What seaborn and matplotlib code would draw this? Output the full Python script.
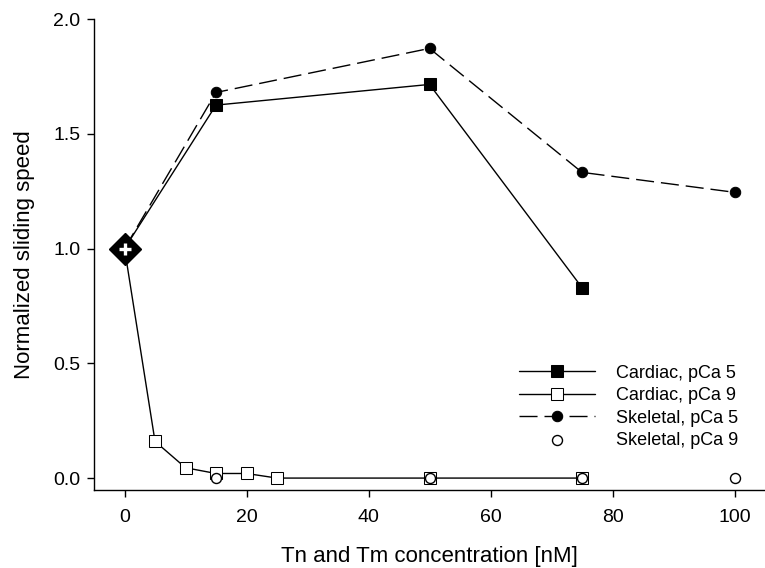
import numpy as np
import pandas as pd
import seaborn as sns
import matplotlib.pyplot as plt
from matplotlib.ticker import FormatStrFormatter

# dados
cardiac_pca5_x = [0, 15, 50, 75]
cardiac_pca5_y = [1.0, 1.625, 1.715, 0.83]

cardiac_pca9_x = [0, 5, 10, 15, 20, 25, 50, 75]
cardiac_pca9_y = [1.0, 0.16, 0.045, 0.02, 0.02, 0.0, 0.0, 0.0]

skeletal_pca5_x = [0, 15, 50, 75, 100]
skeletal_pca5_y = [1.0, 1.68, 1.872, 1.332, 1.245]

skeletal_pca9_x = [15, 50, 75, 100]
skeletal_pca9_y = [0.0, 0.0, 0.0, 0.0]

ref_x = [0]
ref_y = [1.0]

sns.set_style('ticks')
plt.rcParams['font.family'] = ['Liberation Sans', 'DejaVu Sans']
plt.rcParams['text.color'] = 'black'
plt.rcParams['axes.labelcolor'] = 'black'

fig = plt.figure(figsize=(7.65, 5.68), dpi=100)
ax = fig.add_axes([0.1229, 0.1373, 0.8771, 0.8292])

sns.lineplot(x=cardiac_pca5_x, y=cardiac_pca5_y, ax=ax, color='black', lw=1,
             marker='s', markersize=8, markerfacecolor='black', markeredgecolor='black',
             label='Cardiac, pCa 5', zorder=3)
sns.lineplot(x=cardiac_pca9_x, y=cardiac_pca9_y, ax=ax, color='black', lw=1,
             marker='s', markersize=8, markerfacecolor='white', markeredgecolor='black',
             label='Cardiac, pCa 9', zorder=3)
sns.lineplot(x=skeletal_pca5_x, y=skeletal_pca5_y, ax=ax, color='black', lw=1,
             marker='o', markersize=7.5, markerfacecolor='black', markeredgecolor='black',
             dashes=(13, 5), label='Skeletal, pCa 5', zorder=3)
sns.scatterplot(x=skeletal_pca9_x, y=skeletal_pca9_y, ax=ax, marker='o', s=52,
                facecolor='white', edgecolor='black', linewidth=1,
                label='Skeletal, pCa 9', zorder=4)

# ponto de referência (diamante com cruz branca)
ax.plot(ref_x, ref_y, marker='D', markersize=16, color='black', zorder=5, ls='none')
ax.plot(ref_x, ref_y, marker='+', markersize=9, markeredgewidth=2.4, color='white', zorder=6, ls='none')

ax.set_xlim(-5, 105)
ax.set_ylim(-0.052, 2.0)
ax.set_xticks([0, 20, 40, 60, 80, 100])
ax.set_yticks([0.0, 0.5, 1.0, 1.5, 2.0])
ax.yaxis.set_major_formatter(FormatStrFormatter('%.1f'))
ax.tick_params(direction='out', length=5, width=1, colors='black', labelsize=14)
ax.tick_params(axis='x', pad=9)
ax.tick_params(axis='y', pad=5)
for s in ['top', 'right']:
    ax.spines[s].set_visible(False)
for s in ['left', 'bottom']:
    ax.spines[s].set_linewidth(1)
    ax.spines[s].set_color('black')

ax.set_xlabel('Tn and Tm concentration [nM]', fontsize=16, labelpad=14)
ax.set_ylabel('Normalized sliding speed', fontsize=16, labelpad=13)

leg = ax.legend(loc='lower right', bbox_to_anchor=(0.96, 0.087), frameon=False,
                fontsize=13, handlelength=4.2, handletextpad=1.15, labelspacing=0.3,
                borderpad=0, borderaxespad=0)

fig.savefig('out.png', dpi=100)
